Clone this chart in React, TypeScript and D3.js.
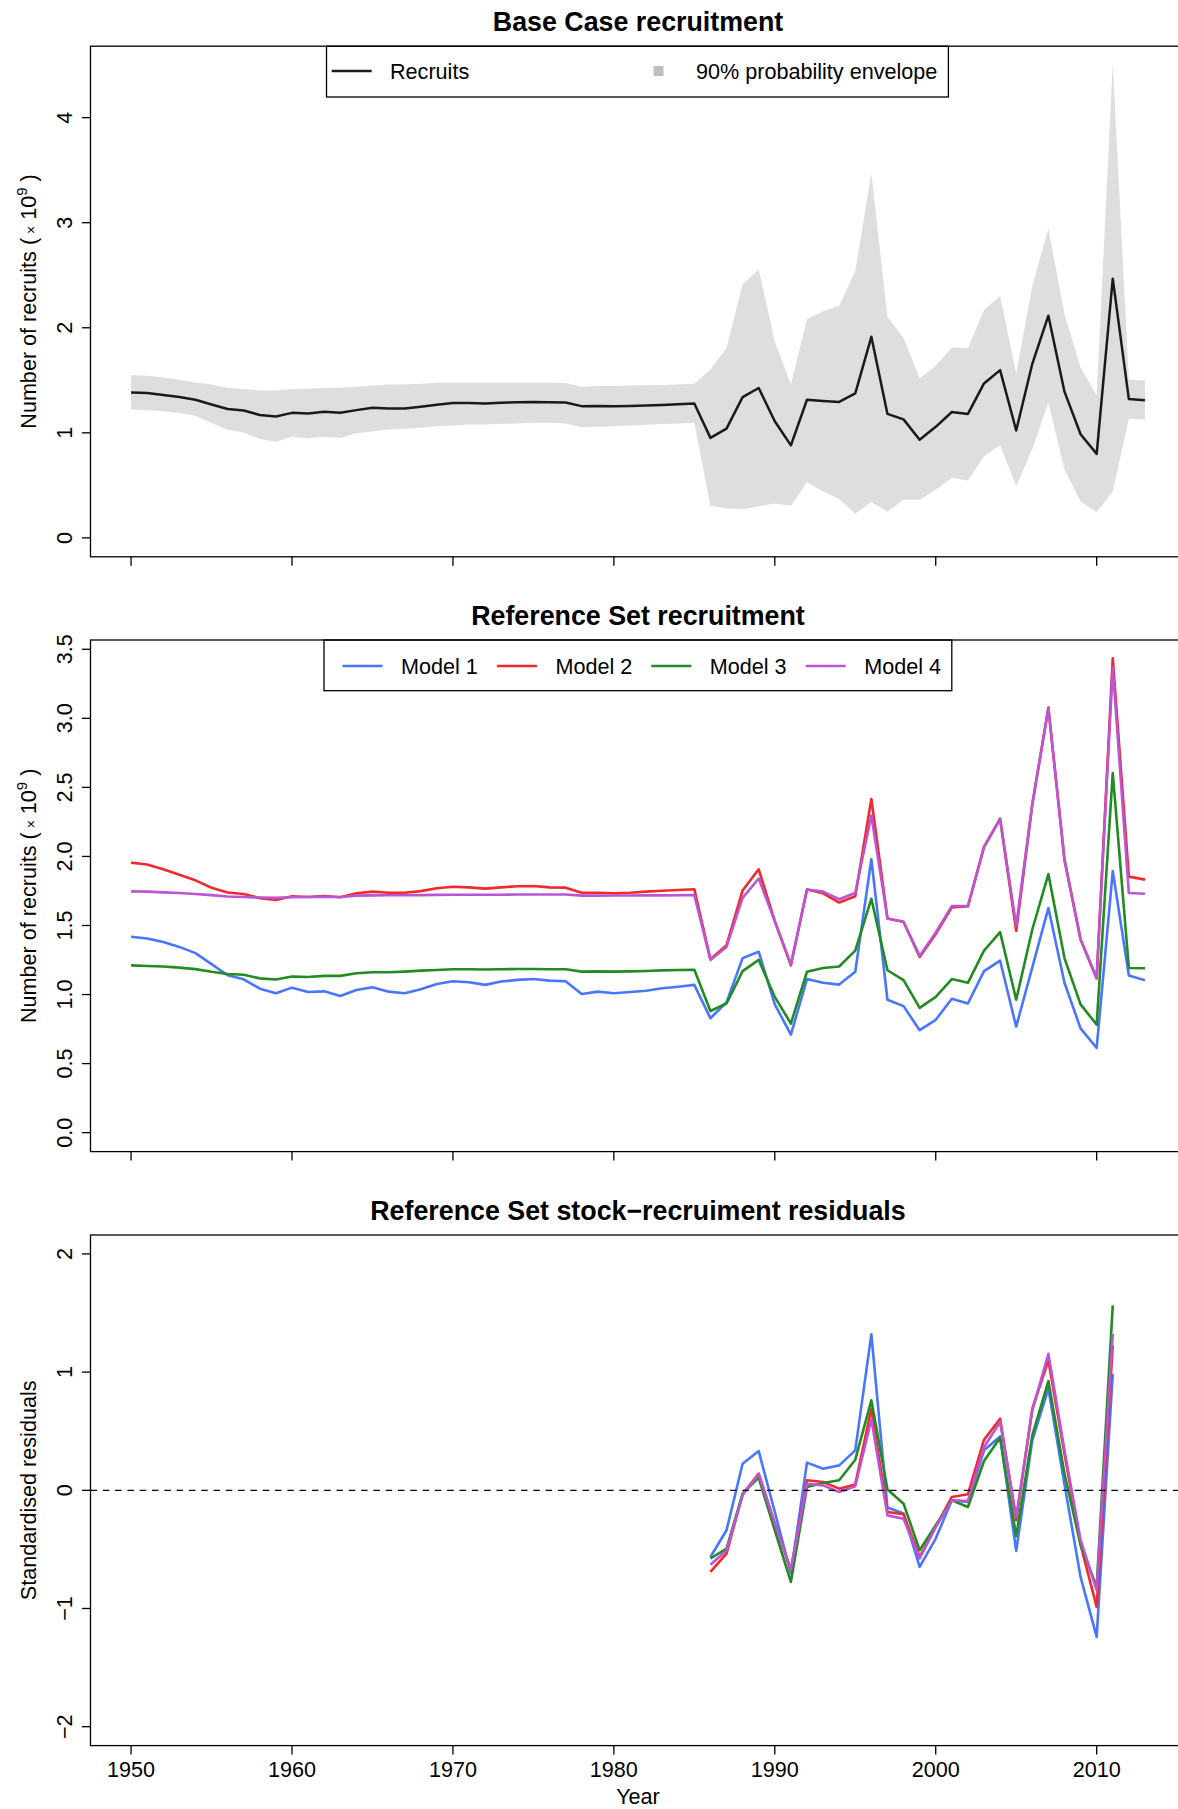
import React from 'react';
import * as d3 from 'd3';

// ---------------- data ----------------
const years = [
  1950, 1951, 1952, 1953, 1954, 1955, 1956, 1957, 1958, 1959,
  1960, 1961, 1962, 1963, 1964, 1965, 1966, 1967, 1968, 1969,
  1970, 1971, 1972, 1973, 1974, 1975, 1976, 1977, 1978, 1979,
  1980, 1981, 1982, 1983, 1984, 1985, 1986, 1987, 1988, 1989,
  1990, 1991, 1992, 1993, 1994, 1995, 1996, 1997, 1998, 1999,
  2000, 2001, 2002, 2003, 2004, 2005, 2006, 2007, 2008, 2009,
  2010, 2011, 2012, 2013,
];

const baseRecruits = [
  1.385, 1.378, 1.36, 1.34, 1.315, 1.27, 1.227, 1.213, 1.17, 1.156,
  1.19, 1.185, 1.2, 1.191, 1.216, 1.238, 1.232, 1.232, 1.248, 1.267,
  1.283, 1.283, 1.278, 1.286, 1.29, 1.293, 1.29, 1.288, 1.254, 1.255,
  1.252, 1.256, 1.26, 1.266, 1.272, 1.28, 0.952, 1.04, 1.34, 1.427,
  1.11, 0.881, 1.315, 1.304, 1.294, 1.375, 1.914, 1.18, 1.128, 0.934,
  1.057, 1.198, 1.18, 1.47, 1.597, 1.022, 1.657, 2.115, 1.392, 0.987,
  0.8, 2.467, 1.321, 1.311,
];

const baseUpper = [
  1.551, 1.544, 1.526, 1.505, 1.48, 1.46, 1.428, 1.417, 1.403, 1.403,
  1.417, 1.42, 1.428, 1.429, 1.438, 1.451, 1.46, 1.46, 1.467, 1.476,
  1.476, 1.476, 1.476, 1.476, 1.476, 1.476, 1.476, 1.474, 1.438, 1.445,
  1.445, 1.45, 1.453, 1.456, 1.46, 1.467, 1.603, 1.808, 2.414, 2.555,
  1.868, 1.463, 2.08, 2.157, 2.21, 2.538, 3.472, 2.104, 1.903, 1.516,
  1.639, 1.815, 1.806, 2.168, 2.302, 1.568, 2.397, 2.943, 2.132, 1.621,
  1.357, 4.512, 1.508, 1.498,
];

const baseLower = [
  1.223, 1.216, 1.205, 1.188, 1.163, 1.093, 1.029, 1.004, 0.941, 0.916,
  0.962, 0.948, 0.962, 0.95, 0.997, 1.012, 1.032, 1.038, 1.048, 1.063,
  1.07, 1.079, 1.079, 1.086, 1.088, 1.095, 1.095, 1.088, 1.054, 1.057,
  1.063, 1.07, 1.076, 1.083, 1.088, 1.095, 0.307, 0.282, 0.272, 0.3,
  0.328, 0.307, 0.529, 0.441, 0.37, 0.229, 0.342, 0.247, 0.363, 0.363,
  0.458, 0.571, 0.546, 0.776, 0.881, 0.494, 0.846, 1.286, 0.652, 0.346,
  0.247, 0.441, 1.135, 1.128,
];

const model1 = [
  1.419, 1.406, 1.38, 1.345, 1.3, 1.22, 1.14, 1.11, 1.042, 1.009,
  1.05, 1.018, 1.023, 0.99, 1.033, 1.053, 1.021, 1.009, 1.038, 1.077,
  1.096, 1.089, 1.07, 1.094, 1.106, 1.113, 1.101, 1.096, 1.004, 1.021,
  1.009, 1.019, 1.028, 1.045, 1.057, 1.07, 0.828, 0.943, 1.264, 1.31,
  0.929, 0.71, 1.112, 1.085, 1.072, 1.165, 1.98, 0.962, 0.916, 0.742,
  0.817, 0.97, 0.935, 1.17, 1.245, 0.768, 1.197, 1.626, 1.085, 0.755,
  0.613, 1.894, 1.138, 1.104,
];

const model2 = [
  1.955, 1.942, 1.907, 1.867, 1.827, 1.773, 1.739, 1.728, 1.698, 1.685,
  1.712, 1.706, 1.714, 1.704, 1.734, 1.745, 1.737, 1.737, 1.749, 1.77,
  1.781, 1.776, 1.767, 1.776, 1.784, 1.786, 1.776, 1.774, 1.737, 1.737,
  1.734, 1.737, 1.745, 1.752, 1.757, 1.762, 1.256, 1.358, 1.754, 1.907,
  1.532, 1.211, 1.76, 1.733, 1.666, 1.712, 2.416, 1.551, 1.527, 1.272,
  1.438, 1.631, 1.639, 2.068, 2.274, 1.46, 2.376, 3.078, 1.974, 1.398,
  1.117, 3.434, 1.854, 1.832,
];

const model3 = [
  1.211, 1.207, 1.203, 1.195, 1.184, 1.165, 1.149, 1.143, 1.117, 1.109,
  1.13, 1.127, 1.135, 1.135, 1.154, 1.161, 1.161, 1.166, 1.173, 1.178,
  1.183, 1.183, 1.181, 1.183, 1.185, 1.185, 1.183, 1.183, 1.166, 1.168,
  1.166, 1.168, 1.171, 1.175, 1.178, 1.18, 0.881, 0.935, 1.17, 1.251,
  0.983, 0.79, 1.165, 1.192, 1.203, 1.318, 1.693, 1.176, 1.104, 0.903,
  0.983, 1.112, 1.085, 1.318, 1.452, 0.962, 1.471, 1.872, 1.264, 0.929,
  0.782, 2.604, 1.192, 1.19,
];

const model4 = [
  1.747, 1.745, 1.74, 1.735, 1.728, 1.72, 1.71, 1.706, 1.703, 1.7,
  1.705, 1.706, 1.708, 1.706, 1.716, 1.718, 1.719, 1.719, 1.72, 1.722,
  1.723, 1.723, 1.723, 1.723, 1.724, 1.724, 1.724, 1.724, 1.716, 1.716,
  1.717, 1.717, 1.718, 1.718, 1.719, 1.72, 1.25, 1.345, 1.7, 1.84,
  1.53, 1.22, 1.76, 1.745, 1.69, 1.735, 2.296, 1.55, 1.525, 1.28,
  1.45, 1.64, 1.64, 2.07, 2.27, 1.5, 2.38, 3.07, 1.98, 1.4,
  1.12, 3.367, 1.735, 1.73,
];

const residYears = [
  1986, 1987, 1988, 1989, 1990, 1991, 1992, 1993, 1994, 1995,
  1996, 1997, 1998, 1999, 2000, 2001, 2002, 2003, 2004, 2005,
  2006, 2007, 2008, 2009, 2010, 2011,
];

const resid1 = [
  -0.564, -0.338, 0.225, 0.332, -0.183, -0.704, 0.234, 0.183, 0.211, 0.338,
  1.319, -0.146, -0.197, -0.648, -0.408, -0.085, -0.099, 0.338, 0.456, -0.513,
  0.423, 0.86, 0.05, -0.733, -1.24, 0.986,
];
const resid2 = [
  -0.69, -0.535, -0.034, 0.141, -0.28, -0.676, 0.085, 0.07, 0.014, 0.05,
  0.69, -0.183, -0.203, -0.563, -0.31, -0.056, -0.034, 0.428, 0.606, -0.254,
  0.69, 1.099, 0.31, -0.46, -0.986, 1.226,
];
const resid3 = [
  -0.577, -0.493, -0.028, 0.107, -0.338, -0.775, 0.028, 0.062, 0.085, 0.259,
  0.761, 0.006, -0.113, -0.507, -0.296, -0.085, -0.141, 0.248, 0.445, -0.389,
  0.465, 0.924, 0.14, -0.46, -0.817, 1.564,
];
const resid4 = [
  -0.63, -0.51, -0.04, 0.135, -0.28, -0.67, 0.056, 0.042, -0.014, 0.034,
  0.6, -0.212, -0.24, -0.577, -0.31, -0.085, -0.09, 0.366, 0.578, -0.226,
  0.676, 1.155, 0.34, -0.42, -0.845, 1.324,
];

const modelNames = ['Model 1', 'Model 2', 'Model 3', 'Model 4'];
const modelColors = ['#4876FF', '#F2292B', '#228B22', '#BA55D3'];

const xTicks = [1950, 1960, 1970, 1980, 1990, 2000, 2010];
const topYTicks = [0, 1, 2, 3, 4];
const topYLabels = ['0', '1', '2', '3', '4'];
const midYTicks = [0, 0.5, 1, 1.5, 2, 2.5, 3, 3.5];
const midYLabels = ['0.0', '0.5', '1.0', '1.5', '2.0', '2.5', '3.0', '3.5'];
const botYTicks = [-2, -1, 0, 1, 2];
const botYLabels = ['\u22122', '\u22121', '0', '1', '2'];

// ---------------- layout ----------------
const W = 1178;
const H = 1809;
const X0 = 90.5;
const X1 = 1185.5;
const FONT = '"Liberation Sans", Arial, Helvetica, sans-serif';
const FS = 21.6;
const TFS = 26.8;

const x = d3.scaleLinear().domain([1947.48, 2015.52]).range([X0, X1]);

const topY = d3.scaleLinear().domain([-0.18, 4.68]).range([556.8, 46.2]);
const midY = d3.scaleLinear().domain([-0.1372, 3.5672]).range([1151.6, 640]);
const botY = d3.scaleLinear().domain([-2.16, 2.16]).range([1745.6, 1235]);

type PanelProps = {
  y: d3.ScaleLinear<number, number>;
  yTicks: number[];
  yLabels: string[];
  title: string;
  titleY: number;
  yTitle: React.ReactNode;
  xLabels?: boolean;
  children?: React.ReactNode;
};

function Panel({ y, yTicks, yLabels, title, titleY, yTitle, xLabels, children }: PanelProps) {
  const [yb, yt] = y.range();
  const cy = (yb + yt) / 2;
  return (
    <g>
      <text x={(X0 + X1) / 2} y={titleY} textAnchor="middle" fontWeight="bold" fontSize={TFS}>
        {title}
      </text>
      {children}
      <rect x={X0} y={yt} width={X1 - X0} height={yb - yt} fill="none" stroke="#000" strokeWidth={1.3} />
      {xTicks.map((t) => (
        <line key={'xt' + t} x1={x(t)} x2={x(t)} y1={yb} y2={yb + 9} stroke="#000" strokeWidth={1.3} />
      ))}
      {xLabels &&
        xTicks.map((t) => (
          <text key={'xl' + t} x={x(t)} y={yb + 31.5} textAnchor="middle" fontSize={FS}>
            {String(t)}
          </text>
        ))}
      {yTicks.map((t, i) => (
        <g key={'yt' + t}>
          <line x1={X0} x2={X0 - 8.5} y1={y(t)} y2={y(t)} stroke="#000" strokeWidth={1.3} />
          <text transform={`translate(71.5,${y(t)}) rotate(-90)`} textAnchor="middle" fontSize={FS}>
            {yLabels[i]}
          </text>
        </g>
      ))}
      <text transform={`translate(35.5,${cy}) rotate(-90)`} textAnchor="middle" fontSize={FS}>
        {yTitle}
      </text>
    </g>
  );
}

const recruitsTitle = (
  <>
    Number of recruits (
    <tspan fontSize={14}> {'\u00D7'}</tspan>
    <tspan> 10</tspan>
    <tspan dy={-9} fontSize={15}>9</tspan>
    <tspan dy={9}> )</tspan>
  </>
);

export default function App() {
  const topLine = d3
    .line<number>()
    .x((_, i) => x(years[i]))
    .y((d) => topY(d));
  const envelope = d3
    .area<number>()
    .x((_, i) => x(years[i]))
    .y0((_, i) => topY(baseLower[i]))
    .y1((d) => topY(d));
  const midLine = d3
    .line<number>()
    .x((_, i) => x(years[i]))
    .y((d) => midY(d));
  const botLine = d3
    .line<number>()
    .x((_, i) => x(residYears[i]))
    .y((d) => botY(d));

  const models = [model1, model2, model3, model4];
  const resids = [resid1, resid2, resid3, resid4];

  return (
    <div style={{ position: 'absolute', left: 0, top: 0 }}>
      <svg width={W} height={H} style={{ display: 'block', background: '#fff' }} fontFamily={FONT}>
        <rect x={0} y={0} width={W} height={H} fill="#fff" />

        {/* Panel 1 */}
        <Panel
          y={topY}
          yTicks={topYTicks}
          yLabels={topYLabels}
          title="Base Case recruitment"
          titleY={31}
          yTitle={recruitsTitle}
        >
          <path d={envelope(baseUpper) || ''} fill="#DEDEDE" stroke="none" />
          <path d={topLine(baseRecruits) || ''} fill="none" stroke="#1a1a1a" strokeWidth={2.5} strokeLinejoin="round" />
          <rect x={326.5} y={46.2} width={621.9} height={50.8} fill="#fff" stroke="#000" strokeWidth={1.3} />
          <line x1={331.7} x2={371.7} y1={71} y2={71} stroke="#1a1a1a" strokeWidth={2.5} />
          <text x={390} y={78.7} fontSize={FS}>Recruits</text>
          <rect x={653.5} y={66} width={10} height={10} fill="#BEBEBE" />
          <text x={696} y={78.7} fontSize={FS}>90% probability envelope</text>
        </Panel>

        {/* Panel 2 */}
        <Panel
          y={midY}
          yTicks={midYTicks}
          yLabels={midYLabels}
          title="Reference Set recruitment"
          titleY={625}
          yTitle={recruitsTitle}
        >
          {models.map((m, k) => (
            <path
              key={'m' + k}
              d={midLine(m) || ''}
              fill="none"
              stroke={modelColors[k]}
              strokeWidth={2.6}
              strokeLinejoin="round"
            />
          ))}
          <rect x={324} y={640} width={627.8} height={50.7} fill="#fff" stroke="#000" strokeWidth={1.3} />
          {modelNames.map((name, k) => (
            <g key={'lg' + k}>
              <line
                x1={342.5 + 154.4 * k}
                x2={382.5 + 154.4 * k}
                y1={666}
                y2={666}
                stroke={modelColors[k]}
                strokeWidth={2.6}
              />
              <text x={401 + 154.4 * k} y={673.7} fontSize={FS}>
                {name}
              </text>
            </g>
          ))}
        </Panel>

        {/* Panel 3 */}
        <Panel
          y={botY}
          yTicks={botYTicks}
          yLabels={botYLabels}
          title={'Reference Set stock\u2212recruiment residuals'}
          titleY={1220}
          yTitle="Standardised residuals"
          xLabels
        >
          {resids.map((r, k) => (
            <path
              key={'r' + k}
              d={botLine(r) || ''}
              fill="none"
              stroke={modelColors[k]}
              strokeWidth={2.6}
              strokeLinejoin="round"
            />
          ))}
          <line
            x1={X0}
            x2={X1}
            y1={botY(0)}
            y2={botY(0)}
            stroke="#000"
            strokeWidth={1.3}
            strokeDasharray="6.5,5.8"
          />
        </Panel>

        <text x={(X0 + X1) / 2} y={1804} textAnchor="middle" fontSize={FS}>
          Year
        </text>
      </svg>
    </div>
  );
}
